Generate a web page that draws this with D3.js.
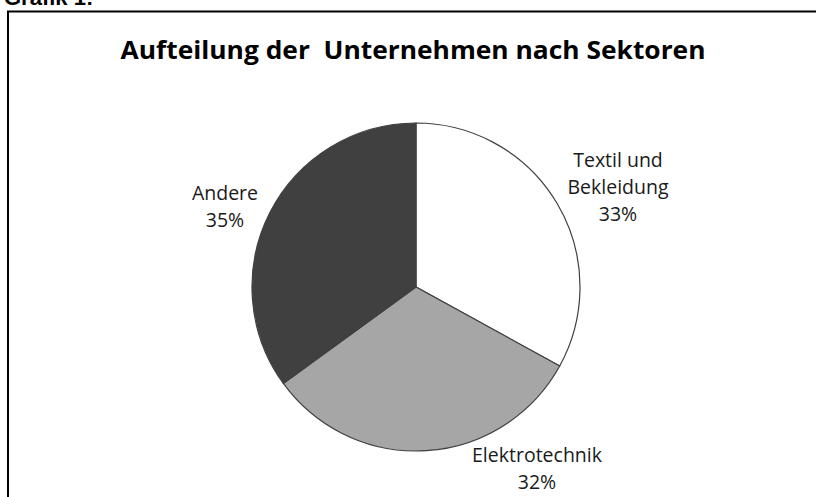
<!DOCTYPE html>
<html>
<head>
<meta charset="utf-8">
<script src="https://cdn.jsdelivr.net/npm/d3@7"></script>
<style>
  body { margin: 0; background: #fff; }
</style>
</head>
<body>
<div id="chart"></div>
<script>
const categories = ['Textil und Bekleidung', 'Elektrotechnik', 'Andere'];
const shares = [33, 32, 35];
const labelLines = [['Textil und', 'Bekleidung'], ['Elektrotechnik'], ['Andere']];
const sliceColors = ['#ffffff', '#a6a6a6', '#404040'];

const w = 816;
const h = 497;
const cx = 416;
const cy = 287;
const r = 164;

const svg = d3.select('#chart')
  .append('svg')
  .attr('width', w)
  .attr('height', h);

// cut-off caption above the frame
svg.append('text')
  .attr('x', 4)
  .attr('y', 5)
  .attr('font-family', 'Liberation Sans, Arial, sans-serif')
  .attr('font-weight', 'bold')
  .attr('font-size', '22px')
  .attr('fill', '#000')
  .text('Grafik 1:');

svg.append('path')
  .attr('d', `M8,${h} V11.5 H${w}`)
  .attr('stroke', '#000')
  .attr('stroke-width', 2)
  .attr('fill', 'none');

svg.append('text')
  .attr('x', 413)
  .attr('y', 59)
  .attr('text-anchor', 'middle')
  .attr('font-family', 'Open Sans, sans-serif')
  .attr('font-weight', 'bold')
  .attr('font-size', '25px')
  .attr('textLength', 585)
  .attr('lengthAdjust', 'spacingAndGlyphs')
  .attr('fill', '#000')
  .style('white-space', 'pre')
  .text('Aufteilung der  Unternehmen nach Sektoren');

const data = categories.map((c, i) => ({ name: c, value: shares[i], lines: labelLines[i], color: sliceColors[i] }));

const pie = d3.pie()
  .value(d => d.value)
  .sort(null);

const arc = d3.arc()
  .innerRadius(0)
  .outerRadius(r);

const g = svg.append('g')
  .attr('transform', `translate(${cx},${cy})`);

const arcs = pie(data);

g.selectAll('path')
  .data(arcs)
  .enter()
  .append('path')
  .attr('d', arc)
  .attr('fill', d => d.data.color)
  .attr('stroke', '#404040')
  .attr('stroke-width', 1.2);

// label anchors, relative to the pie centre
const labelPos = [[202, -120], [121, 175], [-191, -87]];
const lineH = 27;

const labels = g.selectAll('text.lbl')
  .data(arcs)
  .enter()
  .append('text')
  .attr('class', 'lbl')
  .attr('text-anchor', 'middle')
  .attr('font-family', 'Open Sans, sans-serif')
  .attr('font-size', '19.5px')
  .attr('fill', '#1a1a1a');

labels.each(function (d, i) {
  const t = d3.select(this);
  const lines = d.data.lines.concat([d.data.value + '%']);
  lines.forEach((s, j) => {
    t.append('tspan')
      .attr('x', labelPos[i][0])
      .attr('y', labelPos[i][1] + j * lineH)
      .text(s);
  });
});
</script>
</body>
</html>
